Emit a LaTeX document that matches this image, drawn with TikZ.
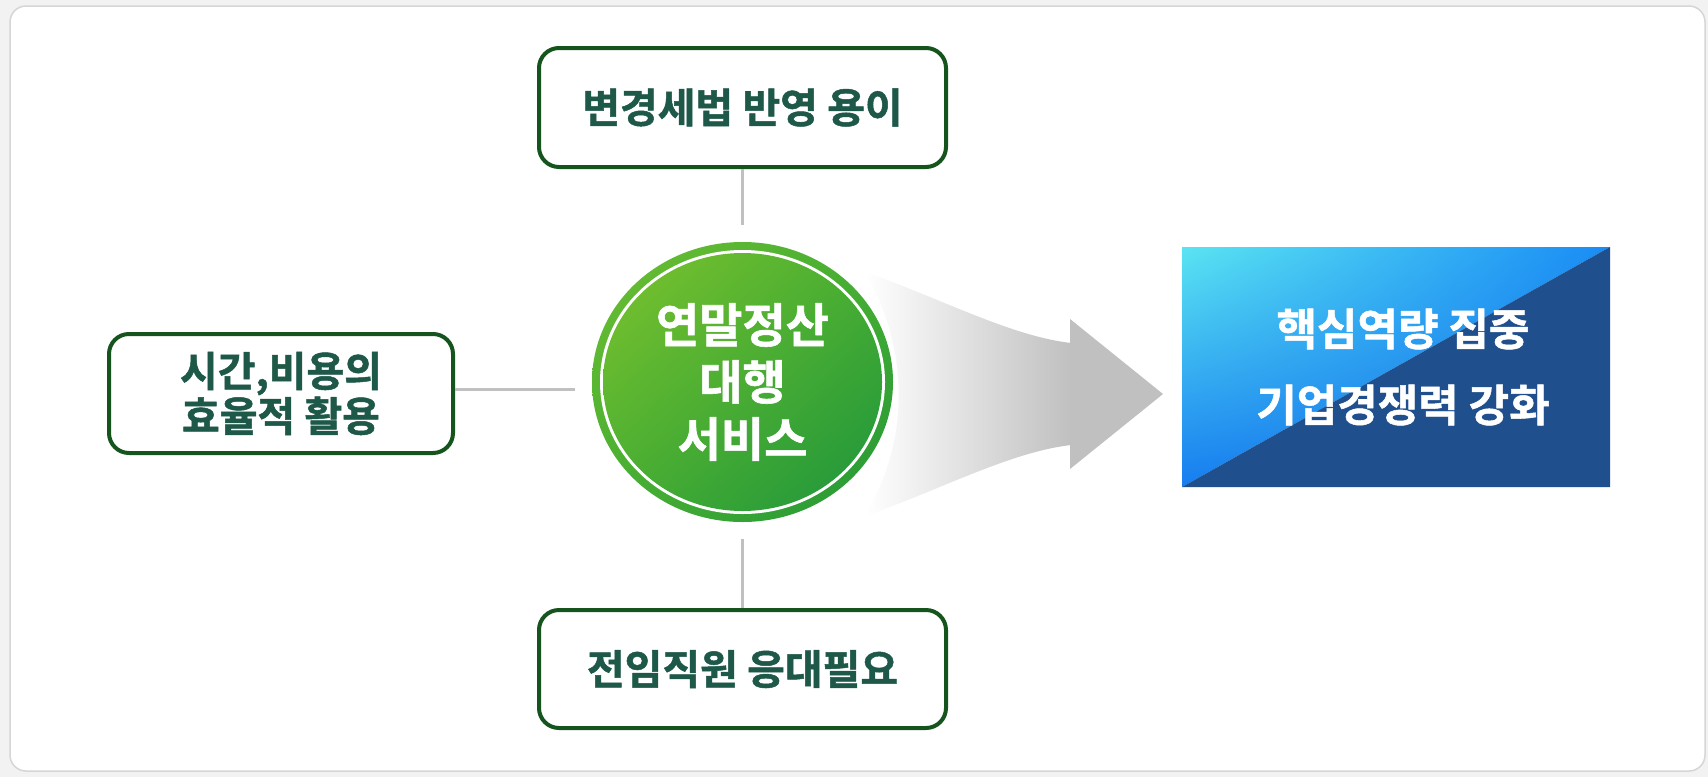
\documentclass[tikz,border=0pt]{standalone}
\usepackage{fontspec}
\newfontfamily\kr{Noto Sans CJK KR Bold}[FakeBold=1.2]
\usetikzlibrary{shapes.geometric,shadings}
\definecolor{bg}{RGB}{242,242,242}
\definecolor{panelgray}{RGB}{214,214,214}
\definecolor{boxgreen}{RGB}{22,84,30}
\definecolor{txtgreen}{RGB}{30,88,72}
\definecolor{linegray}{RGB}{192,192,192}
\definecolor{arrowgray}{RGB}{192,192,192}
\definecolor{navy}{RGB}{31,79,140}
\definecolor{ringUL}{RGB}{110,190,50}
\definecolor{ringUR}{RGB}{70,175,50}
\definecolor{ringLR}{RGB}{35,150,55}
\definecolor{inUL}{RGB}{125,195,45}
\definecolor{inM}{RGB}{72,174,50}
\definecolor{inLR}{RGB}{28,148,60}
\definecolor{blUL}{RGB}{90,228,242}
\definecolor{blUR}{RGB}{25,140,245}
\definecolor{blLL}{RGB}{22,125,240}
\definecolor{blLR}{RGB}{20,110,230}
\begin{document}
\begin{tikzpicture}[x=1pt,y=-1pt,
  box/.style={draw=boxgreen, line width=4pt, rounded corners=20pt, fill=white, text=txtgreen,
    font=\kr\fontsize{41}{45}\selectfont, align=center, inner sep=0pt},
  link/.style={draw=linegray, line width=3pt}]
\useasboundingbox (0,0) rectangle (1708,777);
\fill[bg] (0,0) rectangle (1708,777);
\filldraw[fill=white, draw=panelgray, line width=1.5pt, rounded corners=16pt] (10,6) rectangle (1705,771);

% boxes
\node[box, minimum width=407pt, minimum height=119pt] (top) at (742.5,107.5) {변경세법 반영 용이};
\node[box, minimum width=344pt, minimum height=119pt] (left) at (281,393.5) {시간,비용의\\효율적 활용};
\node[box, minimum width=407pt, minimum height=118pt] (bottom) at (742.5,669) {전임직원 응대필요};

% gray arrow
\shade[left color=white, right color=arrowgray]
  (865,272) .. controls (940,298) and (1010,336) .. (1071,343) -- (1071,445)
  .. controls (1010,452) and (940,490) .. (865,516)
  .. controls (910,440) and (910,350) .. cycle;
\fill[arrowgray] (1070,319) -- (1163,394) -- (1070,469) -- cycle;

% circle
\coordinate (cc) at (742.5,382);
\shade[upper left=ringUL, upper right=ringUR, lower left=ringUR, lower right=ringLR]
  (cc) ellipse [x radius=150.5, y radius=140];
\fill[white] (cc) ellipse [x radius=142.5, y radius=132];
\shade[upper left=inUL, upper right=inM, lower left=inM, lower right=inLR]
  (cc) ellipse [x radius=139.5, y radius=129];
\node[ellipse, minimum width=301pt, minimum height=280pt, inner sep=0pt, outer sep=17pt,
  text=white, font=\kr\fontsize{47}{57}\selectfont, align=center] (circ) at (cc) {연말정산\\대행\\서비스};

% connectors
\draw[link] (top.south) -- (circ.north);
\draw[link] (bottom.north) -- (circ.south);
\draw[link] ([yshift=4pt]left.east) -- ([yshift=4pt]left.east -| circ.west);

% goal box
\node[minimum width=428pt, minimum height=240pt, inner sep=0pt, outer sep=0pt] (goal) at (1396,367) {};
\shade[upper left=blUL, upper right=blUR, lower left=blLL, lower right=blLR]
  (goal.north west) -- (goal.north east) -- (goal.south west) -- cycle;
\fill[navy] (goal.north east) -- (goal.south east) -- (goal.south west) -- cycle;
\node[text=white, font=\kr\fontsize{44}{76}\selectfont, align=center] (goaltext) at ([xshift=7pt]goal.center) {핵심역량 집중\\기업경쟁력 강화};
\end{tikzpicture}
\end{document}
